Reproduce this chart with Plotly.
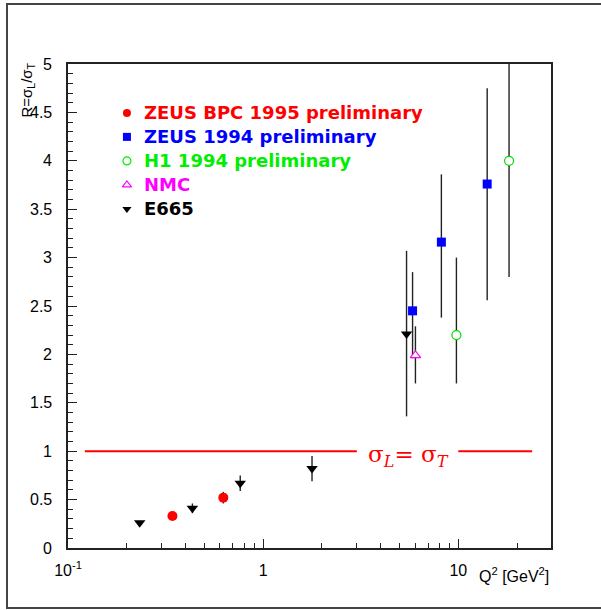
import plotly.graph_objects as go

# ---------------- data ----------------
zeus_bpc_x = [0.343, 0.625]
zeus_bpc_y = [0.33, 0.52]
zeus_bpc_err = [0.03, 0.06]

zeus94_x = [5.83, 8.19, 14.06]
zeus94_y = [2.45, 3.16, 3.76]
zeus94_err_plus = [0.40, 0.70, 0.99]
zeus94_err_minus = [0.49, 0.78, 1.20]

h1_x = [9.78, 18.2]
h1_y = [2.20, 4.00]
h1_err_plus = [0.80, 1.20]
h1_err_minus = [0.50, 1.20]

nmc_x = [6.03]
nmc_y = [1.99]
nmc_err_plus = [0.30]
nmc_err_minus = [0.29]

e665_x = [0.233, 0.434, 0.763, 1.78, 5.43]
e665_y = [0.26, 0.41, 0.67, 0.82, 2.21]
e665_err_plus = [0.02, 0.05, 0.08, 0.13, 0.86]
e665_err_minus = [0.02, 0.05, 0.08, 0.13, 0.85]

line_left_x = [0.122, 3.02]
line_right_x = [10.0, 23.9]
line_y = [1.0, 1.0]

x_tickvals = [0.1, 1, 10]
x_ticktext = ["10<sup>-1</sup>", "1", "10"]
x_minor = [0.2, 0.3, 0.4, 0.5, 0.6, 0.7, 0.8, 0.9, 2, 3, 4, 5, 6, 7, 8, 9, 20]

y_tickvals = [0, 0.5, 1, 1.5, 2, 2.5, 3, 3.5, 4, 4.5, 5]

legend_names = ["ZEUS BPC 1995 preliminary", "ZEUS 1994 preliminary",
                "H1 1994 preliminary", "NMC", "E665"]
legend_colors = ["#ff0000", "#0000ff", "#00ee00", "#ff00ff", "#000000"]
legend_symbols = ["circle", "square", "circle-open", "triangle-up-open", "triangle-down"]
legend_sizes = [8, 8, 8, 8, 8]

# ---------------- figure ----------------
ERRC = "#222222"
fig = go.Figure()

def err(plus, minus=None):
    d = dict(type="data", array=plus, color=ERRC, thickness=1.4, width=0, visible=True)
    if minus is not None:
        d["symmetric"] = False
        d["arrayminus"] = minus
    return d

# sigma_L = sigma_T line
for xs in (line_left_x, line_right_x):
    fig.add_trace(go.Scatter(x=xs, y=line_y, mode="lines",
                             line=dict(color="#ff0000", width=2), showlegend=False,
                             hoverinfo="skip"))

fig.add_trace(go.Scatter(x=e665_x, y=e665_y, mode="markers",
                         marker=dict(symbol="triangle-down", size=10, color="#000000"),
                         error_y=err(e665_err_plus, e665_err_minus), showlegend=False))
fig.add_trace(go.Scatter(x=zeus_bpc_x, y=zeus_bpc_y, mode="markers",
                         marker=dict(symbol="circle", size=10, color="#ff0000"),
                         error_y=err(zeus_bpc_err), showlegend=False))
fig.add_trace(go.Scatter(x=zeus94_x, y=zeus94_y, mode="markers",
                         marker=dict(symbol="square", size=9, color="#0000ff"),
                         error_y=err(zeus94_err_plus, zeus94_err_minus), showlegend=False))
fig.add_trace(go.Scatter(x=h1_x, y=h1_y, mode="markers",
                         marker=dict(symbol="circle", size=9, color="white",
                                     line=dict(color="#00dd00", width=1.2)),
                         error_y=err(h1_err_plus, h1_err_minus), showlegend=False))
fig.add_trace(go.Scatter(x=nmc_x, y=nmc_y, mode="markers",
                         marker=dict(symbol="triangle-up", size=9, color="white",
                                     line=dict(color="#ff00ff", width=1.2)),
                         error_y=err(nmc_err_plus, nmc_err_minus), showlegend=False))

# legend markers on an overlay axis in plot-fraction units
leg_x = 0.122
leg_tx = 0.153
leg_y0 = 0.899
leg_dy = 0.0496
leg_ys = [leg_y0 - i * leg_dy for i in range(len(legend_names))]
for name, col, sym, sz, yy in zip(legend_names, legend_colors, legend_symbols, legend_sizes, leg_ys):
    mk = dict(symbol=sym, size=sz, color=col)
    if sym.endswith("open"):
        mk["line"] = dict(color=col, width=1.2)
    fig.add_trace(go.Scatter(x=[leg_x], y=[yy], mode="markers", marker=mk,
                             xaxis="x2", yaxis="y2", showlegend=False, hoverinfo="skip"))
    fig.add_annotation(x=leg_tx, y=yy, xref="paper", yref="paper", xanchor="left",
                       yanchor="middle", showarrow=False,
                       text="<b>" + name + "</b>",
                       font=dict(family="DejaVu Sans", size=18, color=col))

# sigma text
fig.add_annotation(x=0.706, y=0.19, xref="paper", yref="paper", xanchor="center",
                   yanchor="middle", showarrow=False,
                   text="σ<sub><i>L</i></sub>= σ<sub><i>T</i></sub>",
                   font=dict(family="DejaVu Serif", size=23, color="#ff0000"))

# y tick labels as annotations (to control their offset)
for v in y_tickvals:
    fig.add_annotation(x=-0.03, y=v, xref="paper", yref="y", xanchor="right",
                       yanchor="middle", showarrow=False, text=f"{v:g}",
                       font=dict(family="Liberation Sans", size=16, color="#000000"))

# axis titles
fig.add_annotation(x=-0.083, y=1.008, xref="paper", yref="paper", xanchor="center",
                   yanchor="top", showarrow=False, textangle=-90,
                   text="R=σ<sub>L</sub>/σ<sub>T</sub>",
                   font=dict(family="Liberation Sans", size=15, color="#000000"))
fig.add_annotation(x=1.0, y=-0.056, xref="paper", yref="paper", xanchor="right",
                   yanchor="middle", showarrow=False,
                   text="Q<sup>2</sup> [GeV<sup>2</sup>]",
                   font=dict(family="Liberation Sans", size=16, color="#000000"))

# outer frame
fig.add_shape(type="rect", xref="paper", yref="paper",
              x0=-0.1263, x1=1.14, y0=-0.124, y1=1.124,
              line=dict(color="#444444", width=2), fillcolor="rgba(0,0,0,0)")

fig.update_layout(
    width=601, height=610,
    margin=dict(l=68, r=50, t=64, b=62),
    paper_bgcolor="white", plot_bgcolor="white",
    showlegend=False,
    font=dict(family="Liberation Sans", size=16, color="#000000"),
    xaxis=dict(type="log", range=[-1, 1.475], tickvals=x_tickvals, ticktext=x_ticktext,
               ticks="inside", ticklen=9, tickwidth=1, tickcolor="#222",
               showline=True, linecolor="#222", linewidth=1.5, mirror=True,
               showgrid=False, zeroline=False, ticklabelstandoff=7,
               minor=dict(tickvals=x_minor, ticks="inside", ticklen=5, tickcolor="#222",
                          showgrid=False)),
    yaxis=dict(range=[0, 5], tickvals=y_tickvals, showticklabels=False,
               ticks="inside", ticklen=9, tickwidth=1, tickcolor="#222",
               showline=True, linecolor="#222", linewidth=1.5, mirror=True,
               showgrid=False, zeroline=False,
               minor=dict(dtick=0.1, ticks="inside", ticklen=5, tickcolor="#222",
                          showgrid=False)),
    xaxis2=dict(range=[0, 1], overlaying="x", visible=False, fixedrange=True),
    yaxis2=dict(range=[0, 1], overlaying="y", visible=False, fixedrange=True),
)

fig.write_html("out.html")
